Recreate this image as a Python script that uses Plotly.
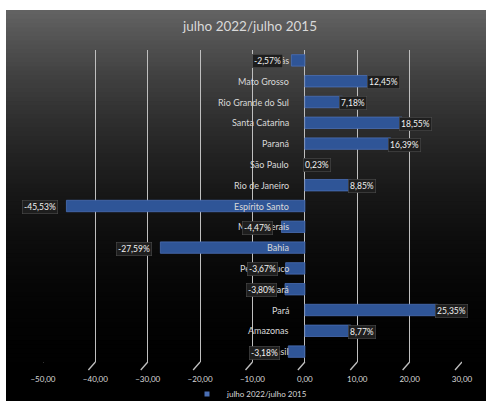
import plotly.graph_objects as go

categories = ["Goiás", "Mato Grosso", "Rio Grande do Sul", "Santa Catarina", "Paraná",
              "São Paulo", "Rio de Janeiro", "Espírito Santo", "Minas Gerais", "Bahia",
              "Pernambuco", "Ceará", "Pará", "Amazonas", "Brasil"]
values = [-2.57, 12.45, 7.18, 18.55, 16.39, 0.23, 8.85, -45.53, -4.47, -27.59,
          -3.67, -3.80, 25.35, 8.77, -3.18]
tick_vals = [-50, -40, -30, -20, -10, 0, 10, 20, 30]
series_name = "julho 2022/julho 2015"
title_text = "julho 2022/julho 2015"

FONT = "Lato"
TXT = "#d9d9d9"
BAR = "#2f5597"
W, H = 486, 401
ML, MR, MT, MB = 43, 24, 50, 39
PW, PH = W - ML - MR, H - MT - MB


def px_x(x):
    return (x - ML) / PW


def px_y(y):
    return (H - MB - y) / PH


fig = go.Figure()
fig.add_trace(go.Bar(
    x=values, y=categories, orientation="h", name=series_name,
    marker=dict(color=BAR, line=dict(color="#4a6fb5", width=0.8)),
    width=0.55, showlegend=False,
))
# legend entry with a small square marker
fig.add_trace(go.Scatter(
    x=[None], y=[None], mode="markers", name=series_name,
    marker=dict(symbol="square", size=5, color="#4a6fb5"), showlegend=True,
))

shapes = []
# background gradient (nested rectangles from bottom, lighter first)
n = 90
bg_top, bg_bot = 10, H
for i in range(n):
    t = i / n
    g = int(round(98 * (1 - t) ** 2.3))
    ytop = bg_top + t * (bg_bot - bg_top)
    shapes.append(dict(type="rect", xref="paper", yref="paper", layer="below",
                       x0=px_x(6), x1=px_x(W + 2), y0=px_y(H + 2), y1=px_y(ytop),
                       fillcolor=f"rgb({g},{g},{g})", line=dict(width=0)))
# 3D feet of gridlines
for v in tick_vals:
    shapes.append(dict(type="line", xref="x", yref="paper", xsizemode="pixel", ysizemode="pixel",
                       xanchor=v, yanchor=0, x0=0, x1=-7, y0=0, y1=-8,
                       line=dict(color="#bfbfbf", width=1.3)))

annotations = []
for c in categories:
    annotations.append(dict(x=0, y=c, xref="x", yref="y", text=c, showarrow=False,
                            xanchor="right", xshift=-14, font=dict(family=FONT, size=9, color=TXT)))
for c, v in zip(categories, values):
    s = f"{v:.2f}%".replace(".", ",")
    common = dict(x=v, y=c, xref="x", yref="y", text=s, showarrow=False, yshift=-1,
                  bgcolor="#1e1e1e", bordercolor="#4d4d4d", borderwidth=0.6, borderpad=1.5,
                  font=dict(family=FONT, size=8.5, color="#f2f2f2"))
    if v >= 0:
        annotations.append(dict(xanchor="left", xshift=-3, **common))
    else:
        annotations.append(dict(xanchor="right", xshift=-8, **common))

fig.update_layout(
    width=W, height=H,
    margin=dict(l=ML, r=MR, t=MT, b=MB, autoexpand=False),
    paper_bgcolor="white", plot_bgcolor="rgba(0,0,0,0)",
    separators=",.",
    title=dict(text=title_text, x=250 / W, xanchor="center", xref="container",
               y=1 - 26 / H, yanchor="middle", yref="container",
               font=dict(family=FONT, size=13.5, color=TXT)),
    xaxis=dict(range=[-50, 30], tickvals=tick_vals, tickformat=".2f", ticksuffix="%",
               showgrid=True, gridcolor="#bfbfbf", gridwidth=1.3, zeroline=True,
               zerolinecolor="#bfbfbf", zerolinewidth=1.3,
               ticks="outside", ticklen=9, tickcolor="rgba(0,0,0,0)",
               tickfont=dict(family=FONT, size=8, color=TXT), showline=False, fixedrange=True),
    yaxis=dict(autorange="reversed", showticklabels=False, showgrid=False, zeroline=False,
               showline=False, ticks=""),
    legend=dict(orientation="h", x=250 / W, xanchor="center", xref="container",
                y=7 / H, yanchor="middle", yref="container", itemwidth=30,
                font=dict(family=FONT, size=8, color=TXT), bgcolor="rgba(0,0,0,0)"),
    shapes=shapes,
    annotations=annotations,
)

fig.write_html("out.html")
